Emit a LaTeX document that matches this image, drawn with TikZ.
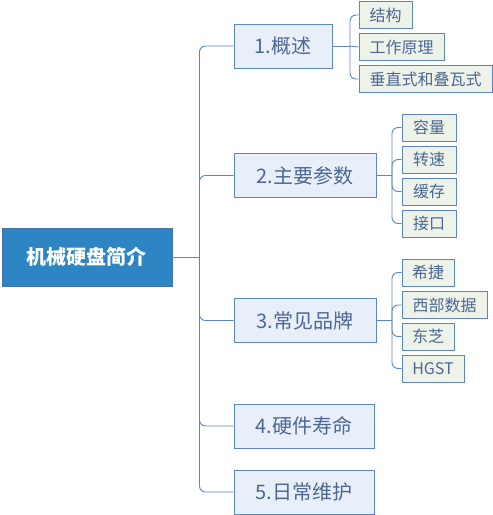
\documentclass[tikz,border=0pt]{standalone}
\usepackage{fontspec}
\setmainfont{Noto Sans CJK SC}
\definecolor{rootfill}{HTML}{2E85C4}
\definecolor{rootdraw}{HTML}{3F75A8}
\definecolor{lonefill}{HTML}{E9EFF9}
\definecolor{ltwofill}{HTML}{EEF3E9}
\definecolor{boxdraw}{HTML}{5A86C4}
\definecolor{txt}{HTML}{4C6794}
\definecolor{linec}{HTML}{5A86C4}
\begin{document}
\begin{tikzpicture}[x=1pt,y=-1pt,
  rootbox/.style={draw=rootdraw,fill=rootfill,line width=0.8pt,minimum width=170pt,minimum height=58pt,inner sep=0pt,text=white,font=\fontsize{20}{24}\selectfont\bfseries},
  lone/.style={draw=boxdraw,fill=lonefill,line width=0.9pt,minimum height=44pt,inner sep=0pt,text=txt,font=\fontsize{20}{24}\selectfont},
  ltwo/.style={draw=boxdraw,fill=ltwofill,line width=0.9pt,minimum height=27pt,inner sep=0pt,text=txt,font=\fontsize{16}{19}\selectfont},
  conn/.style={draw=linec,line width=0.9pt,rounded corners=6pt}]
\useasboundingbox (0,0) rectangle (493,515);
% root
\node[rootbox] (root) at (87,257) {机械硬盘简介};
% level 1
\node[lone,minimum width=98pt] (a1) at (283,46) {1.概述};
\node[lone,minimum width=142pt] (a2) at (305,175.5) {2.主要参数};
\node[lone,minimum width=142pt] (a3) at (305,320.5) {3.常见品牌};
\node[lone,minimum width=140pt] (a4) at (304,426) {4.硬件寿命};
\node[lone,minimum width=140pt] (a5) at (304,492) {5.日常维护};
% level 2 of 1
\node[ltwo,minimum width=53pt] (c11) at (385.5,15) {结构};
\node[ltwo,minimum width=85pt] (c12) at (401.5,47) {工作原理};
\node[ltwo,minimum width=133pt] (c13) at (425.5,79) {垂直式和叠瓦式};
% level 2 of 2
\node[ltwo,minimum width=54pt] (c21) at (429,127.5) {容量};
\node[ltwo,minimum width=54pt] (c22) at (429,159.5) {转速};
\node[ltwo,minimum width=54pt] (c23) at (429,191.5) {缓存};
\node[ltwo,minimum width=54pt] (c24) at (429,223.5) {接口};
% level 2 of 3
\node[ltwo,minimum width=52pt] (c31) at (428,272.5) {希捷};
\node[ltwo,minimum width=85pt] (c32) at (444.5,305) {西部数据};
\node[ltwo,minimum width=52pt] (c33) at (428,336.5) {东芝};
\node[ltwo,minimum width=62pt] (c34) at (433,368.5) {HGST};
% connectors
\coordinate (trunk) at (199.5,257);
\draw[conn] (root.east) -- (trunk);
\foreach \n in {a1,a2,a3,a4,a5}{\draw[conn] (trunk) |- (\n.west);}
\coordinate (b1) at (350,46);
\draw[conn] (a1.east) -- (b1);
\foreach \n in {c11,c13}{\draw[conn] (b1) |- (\n.west);}
\draw[conn] (b1) -- (c12.west);
\coordinate (b2) at (392,175.5);
\draw[conn] (a2.east) -- (b2);
\foreach \n in {c21,c22,c23,c24}{\draw[conn] (b2) |- (\n.west);}
\coordinate (b3) at (392,320.5);
\draw[conn] (a3.east) -- (b3);
\foreach \n in {c31,c32,c33,c34}{\draw[conn] (b3) |- (\n.west);}
\end{tikzpicture}
\end{document}
